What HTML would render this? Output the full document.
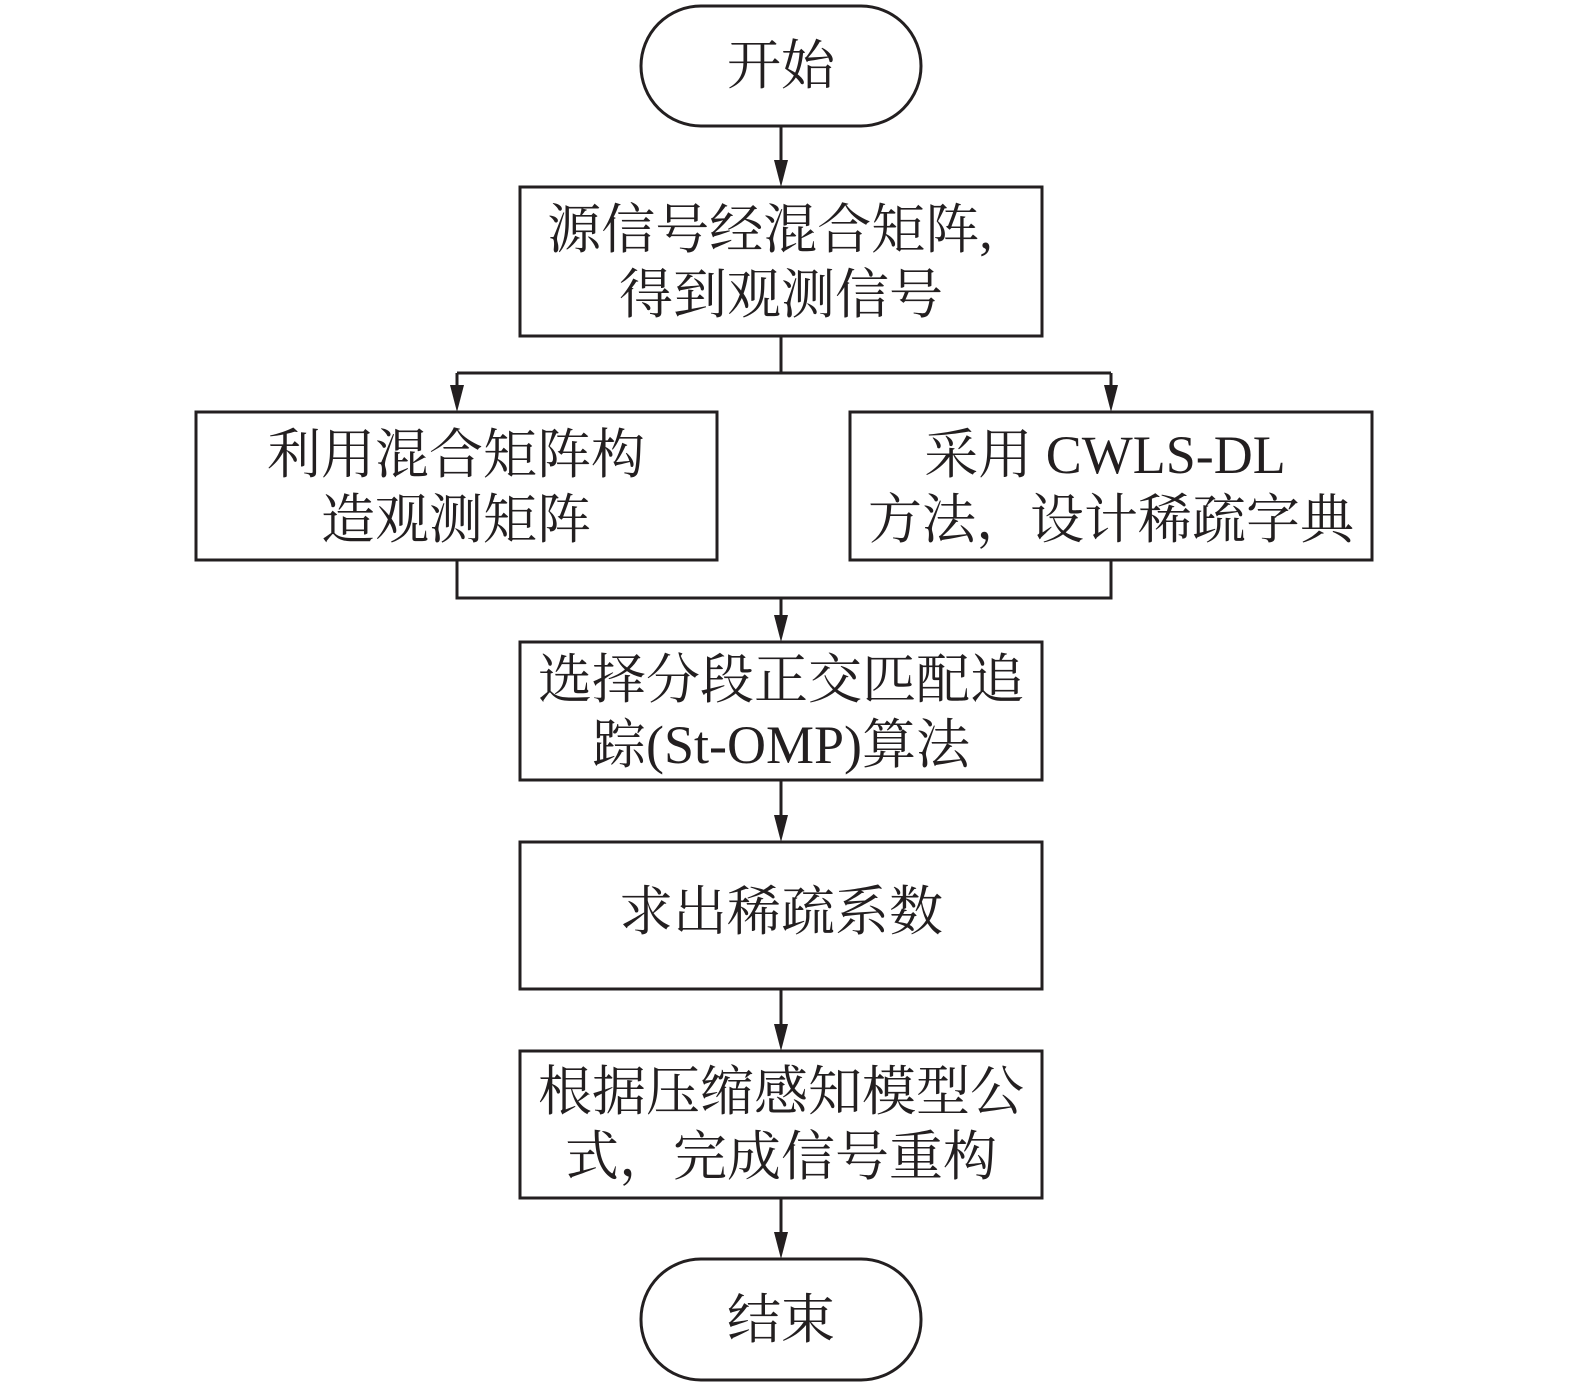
<!DOCTYPE html>
<html><head><meta charset="utf-8"><style>
html,body{margin:0;padding:0;background:#fff;}
svg text{font-family:"Liberation Serif","Noto Serif CJK SC",serif;font-size:54px;fill:#231f20;text-anchor:middle;}
</style></head><body>
<svg width="1575" height="1392" viewBox="0 0 1575 1392" xmlns="http://www.w3.org/2000/svg">
<defs><marker id="a" markerWidth="10" markerHeight="14" refX="5" refY="14" orient="auto" markerUnits="userSpaceOnUse" viewBox="0 0 10 14"><path d="M0,0 L10,0 L5,14 Z" fill="#231f20" transform="rotate(-90 5 7)"/></marker></defs>
<g fill="none" stroke="#231f20" stroke-width="3">
<rect x="641" y="6" width="280" height="120" rx="60"/>
<rect x="520" y="187" width="522" height="149"/>
<rect x="196" y="412" width="521" height="148"/>
<rect x="850" y="412" width="522" height="148"/>
<rect x="520" y="642" width="522" height="138"/>
<rect x="520" y="842" width="522" height="147"/>
<rect x="520" y="1051" width="522" height="147"/>
<rect x="641" y="1259" width="280" height="121" rx="60"/>
<path d="M781 126V170 M781 336V373 M457 373H1111 M457 373V395 M1111 373V395 M457 560V598H1111V560 M781 598V625 M781 780V825 M781 989V1034 M781 1198V1242"/>
</g>
<g fill="#231f20">
<path d="M774 160h14l-7 27z"/>
<path d="M450 385h14l-7 27z"/>
<path d="M1104 385h14l-7 27z"/>
<path d="M774 615h14l-7 27z"/>
<path d="M774 815h14l-7 27z"/>
<path d="M774 1024h14l-7 27z"/>
<path d="M774 1232h14l-7 27z"/>
</g>
<text x="781" y="84">开始</text>
<text x="770" y="248">源信号经混合矩阵,</text>
<text x="781" y="313">得到观测信号</text>
<text x="456" y="473">利用混合矩阵构</text>
<text x="456" y="538">造观测矩阵</text>
<text x="1105" y="473">采用 CWLS-DL</text>
<text x="1111" y="538">方法，设计稀疏字典</text>
<text x="781" y="698">选择分段正交匹配追</text>
<text x="781" y="763">踪(St-OMP)算法</text>
<text x="781" y="930">求出稀疏系数</text>
<text x="781" y="1110">根据压缩感知模型公</text>
<text x="781" y="1175">式，完成信号重构</text>
<text x="781" y="1338">结束</text>
</svg>
</body></html>
